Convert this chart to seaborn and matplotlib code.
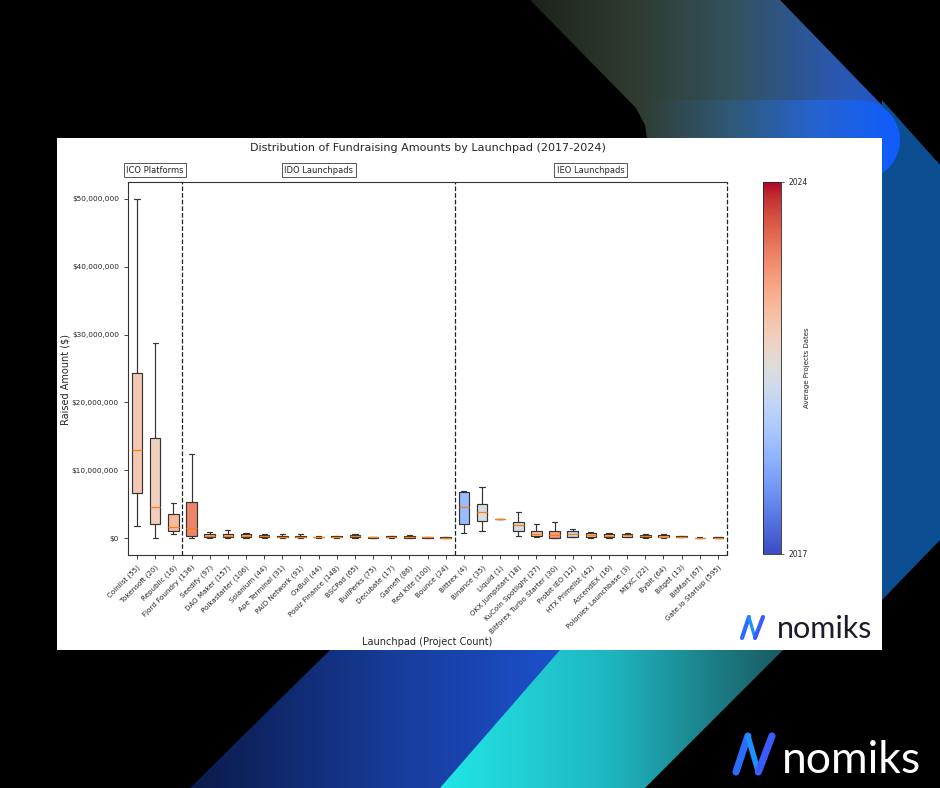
import numpy as np
import pandas as pd
import matplotlib
matplotlib.use("Agg")
import matplotlib.pyplot as plt
import seaborn as sns
from matplotlib.patches import Polygon, Rectangle
from matplotlib.colors import LinearSegmentedColormap, Normalize
from matplotlib.ticker import FuncFormatter

# launchpads, grouped ICO / IDO / IEO
launchpads = [
    "Coinlist (55)", "Tokensoft (20)", "Republic (16)",
    "Fjord Foundry (136)", "Seedify (97)", "DAO Maker (157)", "Polkastarter (106)",
    "Solanium (44)", "Ape Terminal (31)", "PAID Network (91)", "OxBull (44)",
    "Poolz Finance (148)", "BSCPad (65)", "BullPerks (75)", "Decubate (17)",
    "Gamefi (86)", "Red Kite (100)", "Bounce (24)",
    "Bittrex (4)", "Binance (35)", "Liquid (1)", "OKX Jumpstart (18)",
    "KuCoin Spotlight (27)", "Bitforex Turbo Starter (30)", "Probit IEO (12)",
    "HTX Primelist (42)", "AscendEX (16)", "Poloniex Launchbase (3)", "MEXC (22)",
    "Bybit (64)", "Bitget (13)", "BitMart (67)", "Gate.io Startup (595)",
]

# five-number summaries, in millions of USD
whisker_low = [1.8, 0.05, 0.6, 0.05, 0.02, 0.0, 0.02, 0.02, 0.05, 0.02, 0.05,
               0.03, 0.02, 0.03, 0.04, 0.03, 0.03, 0.02,
               0.7, 1.1, 2.8, 0.3, 0.1, 0.0, 0.1, 0.05, 0.05, 0.1, 0.05,
               0.02, 0.1, 0.02, 0.01]
q1 = [6.6, 2.0, 1.1, 0.3, 0.15, 0.1, 0.12, 0.12, 0.12, 0.1, 0.1,
      0.1, 0.12, 0.06, 0.1, 0.08, 0.06, 0.04,
      2.0, 2.5, 2.8, 1.1, 0.25, 0.05, 0.2, 0.15, 0.15, 0.2, 0.15,
      0.1, 0.15, 0.04, 0.03]
median = [13.0, 4.6, 1.6, 1.5, 0.3, 0.3, 0.3, 0.25, 0.2, 0.2, 0.15,
          0.15, 0.25, 0.1, 0.18, 0.15, 0.1, 0.07,
          4.6, 3.8, 2.8, 1.9, 0.6, 0.45, 0.6, 0.4, 0.35, 0.4, 0.3,
          0.2, 0.2, 0.06, 0.06]
q3 = [24.3, 14.7, 3.5, 5.3, 0.55, 0.65, 0.55, 0.45, 0.35, 0.35, 0.22,
      0.25, 0.4, 0.15, 0.25, 0.3, 0.15, 0.1,
      6.8, 5.0, 2.8, 2.4, 1.1, 1.1, 1.1, 0.7, 0.6, 0.6, 0.45,
      0.4, 0.25, 0.08, 0.1]
whisker_high = [50.0, 28.8, 5.2, 12.4, 0.85, 1.2, 0.8, 0.6, 0.55, 0.6, 0.3,
                0.35, 0.6, 0.2, 0.3, 0.45, 0.2, 0.15,
                7.0, 7.5, 2.8, 3.8, 2.0, 2.3, 1.4, 0.95, 0.8, 0.8, 0.6,
                0.6, 0.3, 0.1, 0.15]

# average project year per launchpad (box colour)
avg_year = [2021.3, 2021.1, 2021.6, 2022.6, 2022.0, 2021.9, 2021.8, 2021.9,
            2022.9, 2021.8, 2021.9, 2022.2, 2021.7, 2022.0, 2022.0, 2022.0,
            2021.9, 2022.2,
            2019.0, 2020.5, 2021.5, 2020.2, 2021.3, 2022.2, 2019.9, 2021.5,
            2021.5, 2021.3, 2021.8, 2021.8, 2022.0, 2022.0, 2022.3]

groups = ["ICO Platforms", "IDO Launchpads", "IEO Launchpads"]
group_sizes = [3, 15, 15]

rows = []
for i, name in enumerate(launchpads):
    for v in (whisker_low[i], q1[i], median[i], q3[i], whisker_high[i]):
        rows.append({"launchpad": name, "raised": v * 1e6})
df = pd.DataFrame(rows)

cmap = sns.color_palette("coolwarm", as_cmap=True)
norm = Normalize(vmin=2017, vmax=2024)
palette = {name: cmap(norm(y)) for name, y in zip(launchpads, avg_year)}

sns.set_style("ticks")
plt.rcParams["font.family"] = ["DejaVu Sans"]

W, H = 940, 788
fig = plt.figure(figsize=(W / 100, H / 100), dpi=100)
fig.patch.set_facecolor("black")

# ---- decorative background ----
bg = fig.add_axes([0, 0, 1, 1], zorder=-10)
bg.axis("off")


def grad_shape(pts, colors, z=0):
    poly = Polygon(pts, closed=True, facecolor="none", edgecolor="none")
    bg.add_patch(poly)
    xs = [p[0] for p in pts]
    ys = [p[1] for p in pts]
    g = np.linspace(0, 1, 256).reshape(1, -1)
    cm = LinearSegmentedColormap.from_list("g", colors)
    im = bg.imshow(g, extent=(min(xs), max(xs), max(ys), min(ys)), cmap=cm,
                   aspect="auto", origin="upper", zorder=z, interpolation="bilinear")
    im.set_clip_path(poly)


grad_shape([(530, 0), (780, 0), (940, 165), (940, 320), (648, 320), (648, 145),
            (645, 125), (636, 108)],
           ["#1c231a", "#2f3b30", "#33525e", "#2a58b0", "#1c55e0"], z=1)
grad_shape([(882, 100), (940, 165), (940, 540), (882, 600)], ["#0c4e92", "#0c4e92"], z=2)
theta = np.linspace(np.pi / 2, -np.pi / 2, 40)
pill = [(650, 100)] + [(860 + 40 * np.cos(t), 140 - 40 * np.sin(t)) for t in theta] + [(650, 180)]
grad_shape(pill, ["#30403a", "#2f5a78", "#2563d0", "#0f5cff"], z=3)
grad_shape([(330, 650), (600, 650), (462, 788), (190, 788)],
           ["#0b1a4a", "#173c9a", "#1d55d8"], z=2)
grad_shape([(560, 650), (783, 650), (645, 788), (440, 788)],
           ["#22e6e6", "#1fb5c0", "#1a5a60"], z=3)

bg.add_patch(Rectangle((57, 138), 825, 512, facecolor="white", edgecolor="none", zorder=5))


def logo(x, y, s, text_x, text_color, fs):
    xs = np.array([0, 0.33, 0.62, 1.0]) * s + x
    ys = y - np.array([0, 1, 0, 1]) * s
    bg.plot(xs[:2], ys[:2], color="#2a6cff", lw=s / 7, solid_capstyle="round", zorder=6)
    bg.plot(xs[1:3], ys[1:3], color="#1e90ff", lw=s / 9, solid_capstyle="round", zorder=6)
    bg.plot(xs[2:], ys[2:], color="#3a5cff", lw=s / 7, solid_capstyle="round", zorder=6)
    bg.text(text_x, y + 0.02 * s, "nomiks", color=text_color, fontsize=fs,
            family="Lato", ha="left", va="baseline", zorder=6)


logo(742, 638, 21, 777, "#1b1b2b", 22)
logo(736, 772, 36, 782, "white", 32)

bg.set_xlim(0, W)
bg.set_ylim(H, 0)

# ---- main chart ----
ax = fig.add_axes([128 / W, 1 - 555 / H, 599 / W, 373 / H])
ax.set_facecolor("white")
sns.boxplot(data=df, x="launchpad", y="raised", hue="launchpad", palette=palette,
            saturation=1, whis=(0, 100), width=0.58, linecolor="#333333",
            linewidth=0.85, showfliers=False, legend=False, ax=ax,
            medianprops={"color": "#ff7f0e", "linewidth": 0.9})

ax.set_xlim(-0.5, len(launchpads) - 0.5)
ax.set_ylim(-2.5e6, 52.5e6)
ax.set_yticks(np.arange(0, 50e6 + 1, 10e6))
ax.yaxis.set_major_formatter(FuncFormatter(lambda v, _: f"${v:,.0f}"))
ax.tick_params(axis="both", length=3, width=0.6, colors="#222222")
ax.tick_params(axis="y", labelsize=5.3)
ax.tick_params(axis="x", labelsize=5.1)
plt.setp(ax.get_xticklabels(), rotation=45, ha="right", rotation_mode="anchor")
for s in ax.spines.values():
    s.set_linewidth(0.8)
    s.set_color("#333333")
ax.spines["right"].set_visible(False)

start = 0
for name, n in zip(groups, group_sizes):
    end = start + n
    ax.axvline(end - 0.5, color="#222222", linestyle="--", linewidth=0.9, clip_on=False)
    ax.annotate(name, xy=((start + end - 1) / 2, 1.032), xycoords=("data", "axes fraction"),
                ha="center", va="center", fontsize=6,
                bbox=dict(boxstyle="square,pad=0.3", facecolor="white",
                          edgecolor="#555555", linewidth=0.7))
    start = end

ax.set_title("Distribution of Fundraising Amounts by Launchpad (2017-2024)",
             fontsize=8, pad=22)
ax.set_xlabel("Launchpad (Project Count)", fontsize=7)
ax.set_ylabel("Raised Amount ($)", fontsize=7)
ax.xaxis.set_label_coords(0.5, -(637 - 555) / 373)
ax.yaxis.set_label_coords((70 - 128) / 599, 0.47)

cax = fig.add_axes([763 / W, 1 - 554 / H, 18 / W, 372 / H])
sm = plt.cm.ScalarMappable(norm=norm, cmap=cmap)
cb = fig.colorbar(sm, cax=cax, ticks=[2017, 2024])
cb.ax.tick_params(labelsize=5.5, length=2, width=0.5)
cb.outline.set_linewidth(0.6)
cb.set_label("Average Projects Dates", fontsize=5, labelpad=-3)

fig.savefig("out.png", dpi=100, facecolor=fig.get_facecolor())
